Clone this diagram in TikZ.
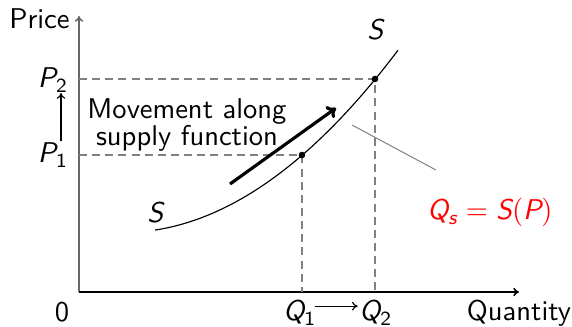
\documentclass[tikz,border=0pt]{standalone}
\usepackage{amsmath}
\usetikzlibrary{arrows.meta}
\newcommand{\vi}[1]{\textit{#1}}
\begin{document}
\sffamily
\begin{tikzpicture}[x=0.35pt,y=-0.35pt,
  axis/.style={line width=0.55pt,-{To[length=2pt,width=3pt]}},
  guide/.style={gray,line width=0.4pt,dash pattern=on 2.8pt off 1.8pt},
  dot/.style={circle,fill=black,inner sep=0pt,minimum size=2.3pt},
  lbl/.style={inner sep=1pt,font=\sffamily}]
\useasboundingbox (0,0) rectangle (572,326);
% axes
\coordinate (O) at (79,292);
\coordinate (Ytop) at (79,16);
\coordinate (Xend) at (519,292);
\draw[axis,black!60] (O) -- (Ytop);
\draw[axis] (O) -- (Xend);
\node[lbl,anchor=east] (price) at (73,19) {Price};
\node[lbl] (zero) at (62,312) {0};
\node[lbl] (qty) at (519,313) {Quantity};
% points on curve
\coordinate (A) at (302,155);
\coordinate (B) at (375,79);
\coordinate (PA) at (79,155);
\coordinate (PB) at (79,79);
\coordinate (QA) at (302,292);
\coordinate (QB) at (375,292);
\draw[guide] (PA) -- (A) -- (QA);
\draw[guide] (PB) -- (B) -- (QB);
% supply curve
\draw[line width=0.4pt] plot[domain=155:398,samples=60] (\x,{196.1+0.593*\x-0.002414*\x*\x});
\node[dot] (da) at (A) {};
\node[dot] (db) at (B) {};
% labels
\node[lbl] (p2) at (53,80) {$\vi{P}_{\textsf{2}}$};
\node[lbl] (p1) at (53,155) {$\vi{P}_{\textsf{1}}$};
\coordinate (p1t) at (61,141);
\coordinate (p2b) at (61,93);
\draw[line width=0.4pt,-{To[length=2pt,width=3pt]}] (p1t) -- (p2b);
\node[lbl] (q1) at (300,313) {$\vi{Q}_{\textsf{1}}$};
\node[lbl] (q2) at (376,313) {$\vi{Q}_{\textsf{2}}$};
\draw[line width=0.4pt,-{To[length=2pt,width=3pt]}] ([xshift=-1.6pt,yshift=2.4pt]q1.east) -- ([xshift=0.6pt,yshift=2.4pt]q2.west);
\node[lbl] (stop) at (376,30) {\vi{S}};
\node[lbl] (sbot) at (156,213) {\vi{S}};
\node[lbl,red] (eq) at (490,212) {$\vi{Q}_{\vi{s}} = \vi{S}(\vi{P})$};
\coordinate (gl1) at (352,125);
\coordinate (gl2) at (436,170);
\draw[gray,line width=0.35pt] (gl1) -- (gl2);
% movement
\node[lbl,align=center,inner sep=0pt,font=\sffamily\linespread{0.78}\selectfont] (mv) at (187,125) {Movement along\\supply function};
\coordinate (m1) at (230,184);
\coordinate (m2) at (336,108);
\draw[line width=1.1pt,-{To[length=3pt,width=5pt]}] (m1) -- (m2);
\end{tikzpicture}
\end{document}
